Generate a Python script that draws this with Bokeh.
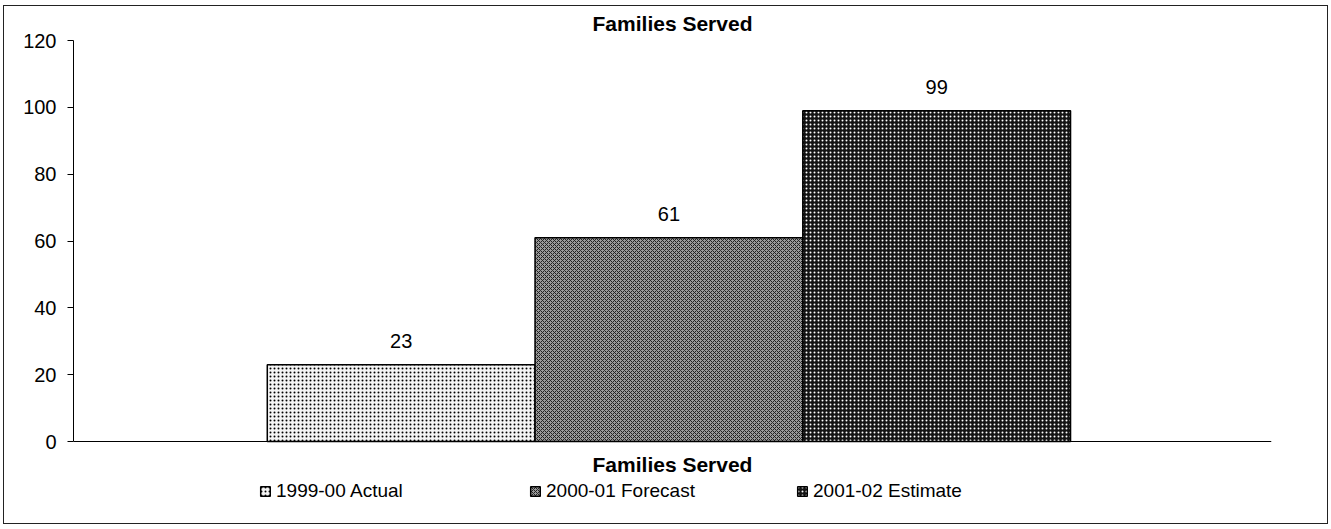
from bokeh.plotting import figure
from bokeh.models import (FactorRange, Range1d, ColumnDataSource, Legend, LegendItem,
                          LabelSet, FixedTicker)
from bokeh.core.properties import value
from bokeh.transform import dodge
from bokeh.embed import file_html
from bokeh.resources import INLINE

# ---- data ----
categories = ["Families Served"]
series = ["1999-00 Actual", "2000-01 Forecast", "2001-02 Estimate"]
values = [23, 61, 99]
y_ticks = [0, 20, 40, 60, 80, 100, 120]

FONT = "Liberation Sans"

# ---- layout (pixels) ----
W, H = 1325, 519
FRAME_TOP, ZERO_Y, FRAME_BOTTOM = 34, 435, 512
px_per_unit = (ZERO_Y - FRAME_TOP) / 120.0
y_lo = -(FRAME_BOTTOM - ZERO_Y) / px_per_unit

p = figure(
    width=W, height=H,
    x_range=FactorRange(factors=categories, range_padding=0),
    y_range=Range1d(y_lo, 120),
    output_backend="svg", toolbar_location=None,
    min_border_left=69, min_border_right=58, min_border_top=FRAME_TOP,
    min_border_bottom=H - FRAME_BOTTOM,
    title="Families Served",
)
p.styles = {"border": "1.5px solid #222", "margin-left": "3px", "margin-top": "5px"}
p.outline_line_color = None
p.grid.visible = False
p.background_fill_color = "white"
p.border_fill_color = "white"

p.title.align = "center"
p.title.vertical_align = "top"
p.title.text_font = FONT
p.title.text_font_size = "21px"
p.title.text_font_style = "bold"
p.title.text_color = "black"
p.title.offset = 0
p.title.standoff = 8

# y axis
ya = p.yaxis[0]
ya.ticker = FixedTicker(ticks=y_ticks)
ya.bounds = (0, 120)
ya.major_label_text_font = FONT
ya.major_label_text_font_size = "20px"
ya.major_label_text_color = "black"
ya.major_tick_out = 6
ya.major_tick_in = 0
ya.minor_tick_line_color = None
ya.axis_line_color = "black"
ya.major_tick_line_color = "black"
ya.major_label_standoff = 11

# x axis at y = 0
xa = p.xaxis[0]
xa.fixed_location = 0
xa.major_label_text_font = FONT
xa.major_label_text_font_size = "21px"
xa.major_label_text_font_style = "bold"
xa.major_label_text_color = "black"
xa.major_tick_line_color = None
xa.minor_tick_line_color = None
xa.axis_line_color = "black"
xa.major_label_standoff = 5

bar_w = 0.2235
shift = -0.003
offsets = [shift - bar_w, shift, shift + bar_w]
styles = [
    dict(fill_color="#f4f4f4", hatch_pattern="dot", hatch_color="black", hatch_scale=4, hatch_weight=2.0),
    dict(fill_color="#9a9a9a", hatch_pattern="diagonal_cross", hatch_color="#222222", hatch_scale=4, hatch_weight=1),
    dict(fill_color="#141414", hatch_pattern="dot", hatch_color="white", hatch_scale=4, hatch_weight=1.6),
]

legend_x = [186, 456, 723]
for i, (s, v) in enumerate(zip(series, values)):
    src = ColumnDataSource(dict(x=[categories[0]], top=[v], label=[str(v)]))
    r = p.vbar(x=dodge("x", offsets[i], range=p.x_range), top="top", width=bar_w,
               source=src, line_color="black", line_width=1.5, **styles[i])
    lbl = LabelSet(x=dodge("x", offsets[i], range=p.x_range), y="top", text="label",
                   source=src, text_align="center", text_baseline="middle",
                   y_offset=24, text_font=value(FONT), text_font_size=value("20px"),
                   text_color="black")
    p.add_layout(lbl)
    leg = Legend(items=[LegendItem(label=s, renderers=[r])], location=(legend_x[i], 16),
                 orientation="horizontal", glyph_width=12, glyph_height=12,
                 label_standoff=5, padding=0, margin=0, spacing=0,
                 border_line_color=None, background_fill_alpha=0,
                 label_text_font=FONT, label_text_font_size="19px", label_text_color="black")
    p.add_layout(leg)

open("out.html", "w").write(file_html(p, INLINE))
